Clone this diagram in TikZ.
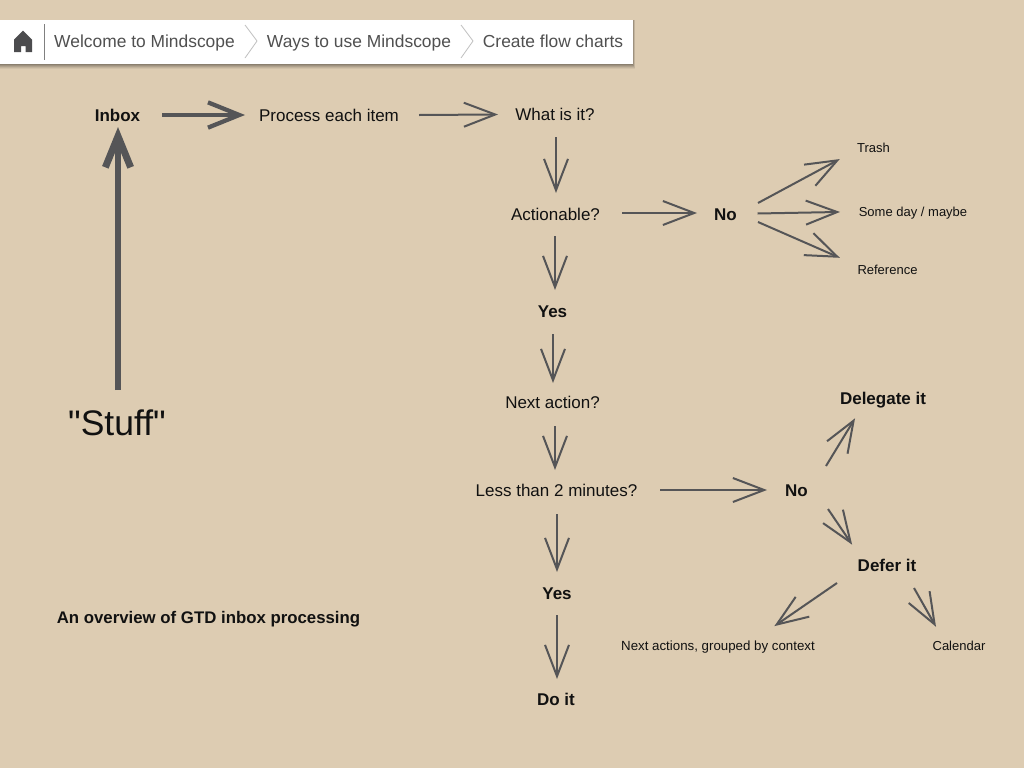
\documentclass[tikz,border=0pt]{standalone}
\usepackage{fontspec}
\setmainfont{Liberation Sans}
\newfontfamily\plainsans{Liberation Sans}
\usetikzlibrary{arrows.meta}
\definecolor{bgc}{RGB}{221,204,178}
\definecolor{inkc}{RGB}{85,85,87}
\definecolor{txtc}{RGB}{17,17,17}
\definecolor{crumbc}{RGB}{80,80,80}
\newcommand{\pxfont}[1]{\fontsize{\dimexpr#1pt*3/4\relax}{\dimexpr#1pt*9/10\relax}\selectfont}
\tikzset{
  lbl/.style={anchor=base,inner sep=0pt,outer sep=0pt,text=txtc,font=\pxfont{17}},
  bold/.style={lbl,font=\pxfont{17}\bfseries},
  small/.style={lbl,font=\pxfont{13}},
  crumb/.style={anchor=base,inner sep=0pt,outer sep=0pt,text=crumbc,font=\pxfont{17.4}},
  conn/.style={draw=inkc,line width=1.5pt,shorten >=-1.5pt,-{Straight Barb[length=23.5pt,width=18pt]}},
  connmid/.style={draw=inkc,line width=3.2pt,shorten >=-1.5pt,-{Straight Barb[length=23.5pt,width=19pt]}},
  connbig/.style={draw=inkc,line width=5.2pt,shorten >=-2.2pt,-{Straight Barb[length=23.3pt,width=19pt]}},
}
\begin{document}
\begin{tikzpicture}[x=0.75pt,y=-0.75pt]
\useasboundingbox (0,0) rectangle (1024,768);
\fill[bgc] (0,0) rectangle (1024,768);
% breadcrumb bar
\foreach \d/\o in {5/0.05,4/0.07,3/0.09,2/0.1,1/0.12}{
  \fill[black,opacity=\o] (-5,20) rectangle (633+\d*0.4,64+\d*0.9);
}
\fill[white] (0,20) rectangle (633,64);
\draw[gray,line width=0.75pt] (44.5,24) -- (44.5,60);
\draw[black!25,line width=0.6pt] (245,25) -- (257,41) -- (245,58);
\draw[black!25,line width=0.6pt] (461,25) -- (473,41) -- (461,58);
\fill[inkc!90!black]
  (23,30.5) -- (32,39.5) -- (32,52) -- (25.7,52) -- (25.7,46) -- (21,46) -- (21,52) -- (14,52) -- (14,39.5) -- cycle;
\node[crumb] (c1) at (144.5,47) {Welcome to Mindscope};
\node[crumb] (c2) at (359,47) {Ways to use Mindscope};
\node[crumb] (c3) at (553,47) {Create flow charts};
% labels
\node[bold] (inbox) at (117.5,121) {Inbox};
\node[lbl] (proc) at (329,121) {Process each item};
\node[lbl] (what) at (555,120) {What is it?};
\node[lbl] (act) at (555.5,220) {Actionable?};
\node[bold] (no1) at (725.5,220) {No};
\node[small] (trash) at (873.5,152) {Trash};
\node[small] (some) at (913,216) {Some day / maybe};
\node[small] (ref) at (887.5,274) {Reference};
\node[bold] (yes1) at (552.5,317) {Yes};
\node[lbl] (next) at (552.5,408) {Next action?};
\node[lbl] (less) at (556.5,496) {Less than 2 minutes?};
\node[bold] (no2) at (796.5,496) {No};
\node[bold] (deleg) at (883,404) {Delegate it};
\node[bold] (defer) at (887,571) {Defer it};
\node[bold] (yes2) at (557,599) {Yes};
\node[bold] (doit) at (556,705) {Do it};
\node[small,font=\pxfont{13.3}] (ctx) at (718,650) {Next actions, grouped by context};
\node[small] (cal) at (959,650) {Calendar};
\node[lbl,font=\pxfont{35.5}\plainsans] (stuff) at (117,435) {"Stuff"};
\node[bold,font=\pxfont{16.8}\bfseries] (over) at (208.5,623) {An overview of GTD inbox processing};
% connectors
\draw[connmid] ([shift={(44.5,-6)}]inbox.base) -- ([shift={(-86,-6)}]proc.base);
\draw[connbig] ([shift={(1,-45)}]stuff.base) -- ([shift={(0.5,9)}]inbox.base);
\draw[conn] ([shift={(90,-6)}]proc.base) -- ([shift={(-59,-5.5)}]what.base);
\draw[conn] ([shift={(1,17)}]what.base) -- ([shift={(0.5,-29)}]act.base);
\draw[conn] ([shift={(66.5,-7)}]act.base) -- ([shift={(-30.5,-7)}]no1.base);
\draw[conn] ([shift={(-0.5,16)}]act.base) -- ([shift={(2.5,-29)}]yes1.base);
\draw[conn] ([shift={(0.5,17)}]yes1.base) -- ([shift={(0.5,-27)}]next.base);
\draw[conn] ([shift={(2.5,18)}]next.base) -- ([shift={(-1.5,-28)}]less.base);
\draw[conn] ([shift={(103.5,-6)}]less.base) -- ([shift={(-31.5,-6)}]no2.base);
\draw[conn] ([shift={(0.5,18)}]less.base) -- ([shift={(0,-29)}]yes2.base);
\draw[conn] ([shift={(0,16)}]yes2.base) -- ([shift={(1,-28)}]doit.base);
\draw[conn] ([shift={(32.5,-17)}]no1.base) -- ([shift={(-35.5,8)}]trash.base);
\draw[conn] ([shift={(32,-6.5)}]no1.base) -- ([shift={(-75,-4)}]some.base);
\draw[conn] ([shift={(32.5,2)}]no1.base) -- ([shift={(-49.5,-17)}]ref.base);
\draw[conn] ([shift={(29.5,-30)}]no2.base) -- ([shift={(-29,16)}]deleg.base);
\draw[conn] ([shift={(31.5,13)}]no2.base) -- ([shift={(-36,-28)}]defer.base);
\draw[conn] ([shift={(-50,12)}]defer.base) -- ([shift={(58,-25)}]ctx.base);
\draw[conn] ([shift={(27,17)}]defer.base) -- ([shift={(-24,-25)}]cal.base);
\end{tikzpicture}
\end{document}
